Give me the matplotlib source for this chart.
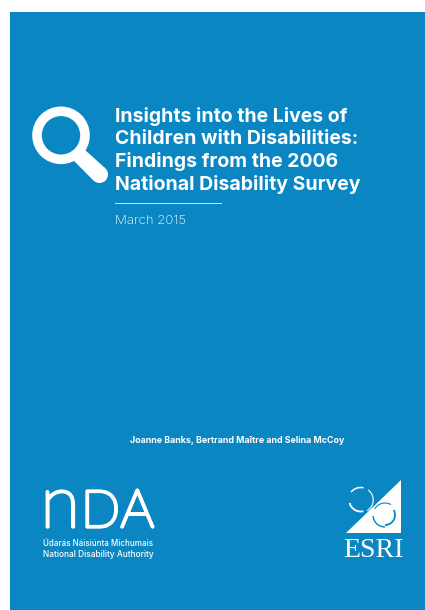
import matplotlib
matplotlib.use('Agg')
from matplotlib import pyplot as plt
import matplotlib.patches as patches
import matplotlib.patheffects as pe

# cover texts
title_lines = ['Insights into the Lives of', 'Children with Disabilities:',
               'Findings from the 2006', 'National Disability Survey']
title_baselines = [122, 144.5, 167, 189.5]
date_text = 'March 2015'
authors = 'Joanne Banks, Bertrand Maître and Selina McCoy'
nda_lines = ['Údarás Náisiúnta Míchumais', 'National Disability Authority']
nda_baselines = [545.5, 557]
nda_sizes = [5.8, 6.0]

BLUE = '#0a86c2'
WHITE = '#ffffff'

fig = plt.figure(figsize=(4.25, 6.1), dpi=100, facecolor='white')
ax = fig.add_axes([0, 0, 1, 1])
ax.set_xlim(0, 425)
ax.set_ylim(610, 0)
ax.axis('off')

ax.add_patch(patches.Rectangle((10, 12), 415, 598, fc=BLUE, ec='none'))

# magnifying glass
ax.add_patch(patches.Circle((61, 135.3), 24, fc='none', ec=WHITE, lw=6.9))
ax.add_patch(patches.Polygon([(85, 150), (74, 161), (93, 180), (105, 168)], fc=WHITE, ec='none'))
ax.add_patch(patches.Circle((99.5, 174.5), 8.5, fc=WHITE, ec='none'))

for line, y in zip(title_lines, title_baselines):
    ax.text(115, y, line, family='Inter', weight='bold', fontsize=14, color=WHITE, va='baseline')

ax.plot([115, 221], [203, 203], color='#cfe6f3', lw=0.7)
ax.text(115, 224, date_text, family='Inter', weight='light', fontsize=9.5, color=WHITE, va='baseline')
ax.text(130, 443, authors, family='Inter', weight='bold', fontsize=6.4, color=WHITE, va='baseline')

# NDA logo, hairline letters thickened with a stroke
thick = [pe.withStroke(linewidth=2.3, foreground=WHITE)]
ax.text(40.5, 527, 'n', family='Lato', weight='light', fontsize=52, color=WHITE, va='baseline', path_effects=thick)
ax.text(81, 527, 'D', family='Lato', weight='light', fontsize=37, color=WHITE, va='baseline', path_effects=thick)
ax.text(120.5, 527, 'A', family='Lato', weight='light', fontsize=38, color=WHITE, va='baseline', path_effects=thick)
for line, y, size in zip(nda_lines, nda_baselines, nda_sizes):
    ax.text(43, y, line, family='Inter', weight='medium', fontsize=size, color=WHITE, va='baseline')

# ESRI logo
ax.add_patch(patches.Polygon([(400.7, 480), (400.7, 532.7), (346, 532.7)], fc=WHITE, ec='none'))
ax.add_patch(patches.Arc((360.7, 500), 25, 25, theta1=220, theta2=283, ec=WHITE, lw=1.1))
ax.add_patch(patches.Arc((360.7, 500), 23, 23, theta1=77, theta2=165, ec=WHITE, lw=1.3))
ax.add_patch(patches.Arc((360.7, 500), 25, 25, theta1=-53, theta2=59, ec=WHITE, lw=0.8))
ax.add_patch(patches.Arc((385, 515), 24, 24, theta1=210, theta2=300, ec=BLUE, lw=0.8))
ax.add_patch(patches.Arc((385, 515), 24, 24, theta1=90, theta2=175, ec=BLUE, lw=1.0))
ax.add_patch(patches.Arc((385, 515), 20, 20, theta1=-30, theta2=90, ec=BLUE, lw=1.3))
ax.text(373.5, 557, 'ESRI', family='Liberation Serif', fontsize=20, color=WHITE, ha='center', va='baseline')

fig.savefig('out.png', dpi=100)
